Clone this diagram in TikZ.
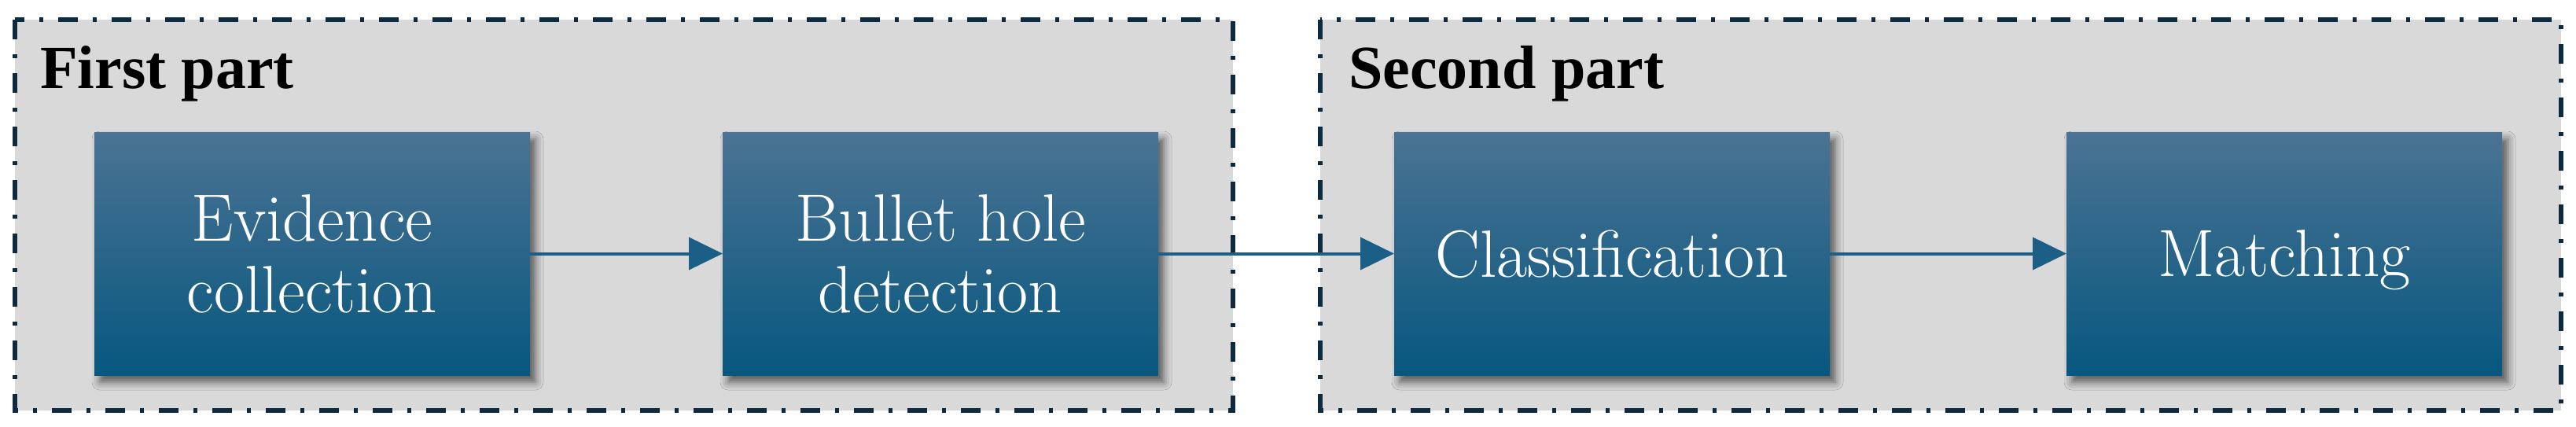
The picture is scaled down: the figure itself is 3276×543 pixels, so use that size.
\documentclass[tikz,border=0pt]{standalone}
\usepackage{fontspec}
\newfontfamily\titlefont{Liberation Serif}
\usetikzlibrary{arrows.meta,shadows.blur}
\definecolor{framebg}{HTML}{D9D9D9}
\definecolor{frameline}{HTML}{0E2A3E}
\definecolor{boxtop}{HTML}{4B7393}
\definecolor{boxbot}{HTML}{07577F}
\definecolor{arrowcol}{HTML}{1B5E86}
\tikzset{
  partframe/.style={fill=framebg, draw=frameline, line width=6.5pt,
    dash pattern=on 25pt off 19pt on 5pt off 19pt},
  parttitle/.style={anchor=base west, inner sep=0pt, font=\titlefont\bfseries\fontsize{78}{80}\selectfont},
  stepbox/.style={rectangle, minimum width=554pt, minimum height=309pt, inner sep=0pt, outer sep=0pt,
    top color=boxtop, bottom color=boxbot, text=white, align=center,
    font=\fontsize{85}{91}\selectfont,
    blur shadow={shadow xshift=7pt, shadow yshift=-9pt, shadow blur radius=10pt, shadow opacity=60}},
  flow/.style={draw=arrowcol, line width=4pt, -{Triangle[length=43pt,width=41pt]}}
}
\begin{document}
\begin{tikzpicture}[x=1pt,y=-1pt]
\useasboundingbox (0,0) rectangle (3276,543);
\fill[white] (0,0) rectangle (3276,543);
\draw[partframe] (19,25) rectangle (1568,522);
\draw[partframe] (1679,25) rectangle (3257,522);
\node[parttitle] (t1) at (51,112) {First part};
\node[parttitle] (t2) at (1715,112) {Second part};
\node[stepbox] (b1) at (397,322.5) {Evidence\\collection};
\node[stepbox] (b2) at (1196,322.5) {Bullet hole\\detection};
\node[stepbox, text depth=0pt] (b3) at (2050,322.5) {Classification};
\node[stepbox, text depth=0pt] (b4) at (2905,322.5) {Matching};
\draw[flow] (b1.east) -- (b2.west);
\draw[flow] (b2.east) -- (b3.west);
\draw[flow] (b3.east) -- (b4.west);
\end{tikzpicture}
\end{document}
